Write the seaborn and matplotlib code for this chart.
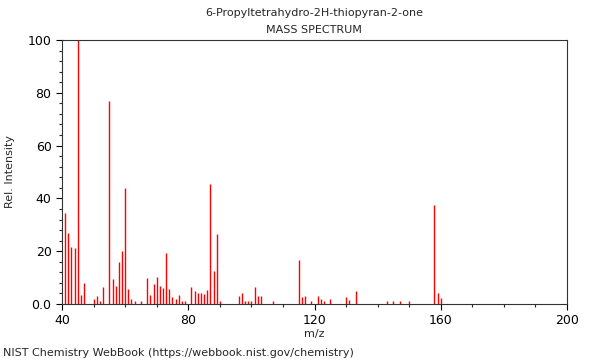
import numpy as np
import pandas as pd
import matplotlib
matplotlib.use("Agg")
import matplotlib.pyplot as plt
import seaborn as sns
from matplotlib.ticker import MultipleLocator, FuncFormatter

# peak list (m/z, relative intensity)
mz = [41, 42, 43, 44, 45, 46, 47, 50, 51, 52, 53, 55, 56, 57, 58, 59, 60, 61, 62, 63,
      65, 67, 68, 69, 70, 71, 72, 73, 74, 75, 76, 77, 78, 79, 81, 82, 83, 84, 85, 86,
      87, 88, 89, 90, 96, 97, 98, 99, 100, 101, 102, 103, 107, 115, 116, 117, 119, 121,
      122, 123, 125, 130, 131, 133, 143, 145, 147, 150, 158, 159, 160]
intensity = [34.6, 27.0, 21.7, 21.1, 100.0, 3.4, 8.1, 1.9, 3.0, 1.1, 6.4, 77.0, 9.5, 6.8,
             15.9, 20.0, 44.0, 5.7, 2.0, 1.3, 1.2, 10.0, 3.4, 7.6, 10.4, 6.8, 6.1, 19.4,
             5.6, 2.8, 1.8, 3.5, 1.3, 1.1, 6.4, 5.1, 4.2, 4.2, 3.8, 5.4, 45.5, 12.5, 26.5,
             1.3, 3.0, 4.2, 1.1, 1.0, 1.0, 6.6, 3.0, 3.0, 1.0, 16.7, 2.7, 3.2, 1.1, 3.2,
             2.0, 1.0, 2.0, 2.7, 1.6, 5.0, 1.1, 1.0, 1.0, 1.1, 37.5, 4.2, 2.3]

compound = "6-Propyltetrahydro-2H-thiopyran-2-one"
source = "NIST Chemistry WebBook (https://webbook.nist.gov/chemistry)"

df = pd.DataFrame({"mz": mz, "intensity": intensity})

sns.set_style("ticks")
plt.rcParams["font.family"] = ["DejaVu Sans"]

fig = plt.figure(figsize=(6, 3.6), dpi=100)
ax = fig.add_axes([62 / 600, 56 / 360, 505 / 600, 264 / 360])

ax.vlines(df["mz"], 0, df["intensity"], color="red", linewidth=1.0)

ax.set_xlim(40, 200)
ax.set_ylim(0, 100)
ax.xaxis.set_major_locator(MultipleLocator(40))
ax.xaxis.set_minor_locator(MultipleLocator(10))
ax.yaxis.set_major_locator(MultipleLocator(20))
ax.yaxis.set_minor_locator(MultipleLocator(4))
ax.yaxis.set_major_formatter(FuncFormatter(lambda v, p: "0.0" if v == 0 else f"{v:.0f}"))
ax.tick_params(which="major", length=4, width=0.8, labelsize=9, colors="black")
ax.tick_params(which="minor", length=2.5, width=0.8)
for s in ax.spines.values():
    s.set_visible(True)
    s.set_linewidth(0.8)
    s.set_color("#333333")

ax.set_xlabel("m/z", fontsize=8, labelpad=1)
ax.set_ylabel("Rel. Intensity", fontsize=8, labelpad=9)

fig.text(0.524, 0.963, compound, ha="center", va="center", fontsize=8)
fig.text(0.524, 0.916, "MASS SPECTRUM", ha="center", va="center", fontsize=8)
fig.text(0.005, 0.005, source, ha="left", va="bottom", fontsize=8)

fig.savefig("out.png", dpi=100)
